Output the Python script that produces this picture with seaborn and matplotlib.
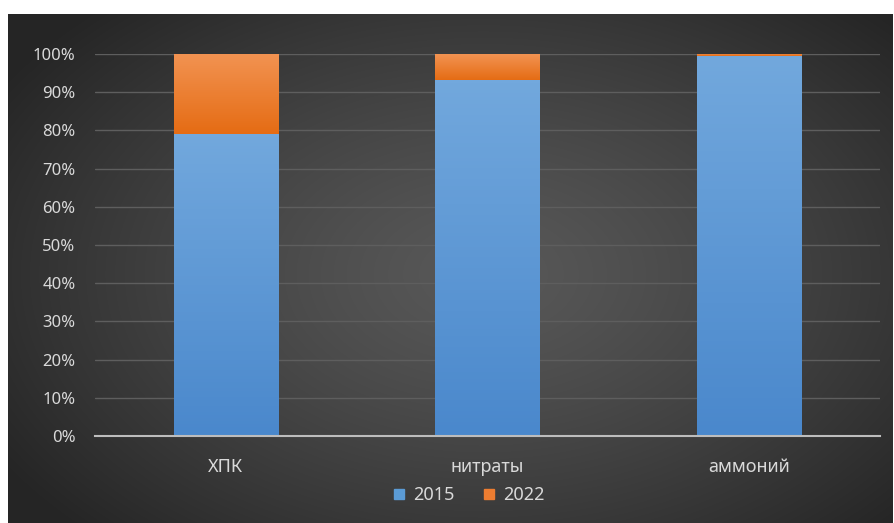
import numpy as np
import pandas as pd
import matplotlib
matplotlib.use("Agg")
import matplotlib.pyplot as plt
from matplotlib.lines import Line2D
import seaborn as sns

categories = ["ХПК", "нитраты", "аммоний"]
share_2015 = [79.0, 93.3, 99.4]
share_2022 = [21.0, 6.7, 0.6]
years = ["2015", "2022"]
yticks = list(range(0, 101, 10))

df = pd.DataFrame({"category": categories, "y2015": share_2015, "y2022": share_2022})
df["total"] = df["y2015"] + df["y2022"]

sns.set_style("dark")
plt.rcParams["font.family"] = ["Noto Sans", "DejaVu Sans"]

fig = plt.figure(figsize=(8.94, 5.23), dpi=100, facecolor="white")

# dark panel with radial gradient
bg = fig.add_axes([8 / 894, 0, 885 / 894, 509 / 523], zorder=0)
h, w = 509, 885
yy, xx = np.mgrid[0:h, 0:w]
r = np.sqrt(((xx - 475) / 560.0) ** 2 + ((yy - 260) / 360.0) ** 2)
r = np.clip(r, 0, 1) ** 1.3
c0, c1 = 0x58 / 255, 0x26 / 255
img = c0 + (c1 - c0) * r
bg.imshow(np.dstack([img, img, img]), aspect="auto", extent=[0, 1, 0, 1])
bg.set_axis_off()

ax = fig.add_axes([95 / 894, 1 - 436 / 523, 785 / 894, (436 - 54) / 523], zorder=1)
ax.patch.set_alpha(0)

sns.barplot(data=df, x="category", y="total", color="#ed7d31", width=0.4,
            saturation=1, ax=ax, zorder=3, edgecolor="none", linewidth=0)
sns.barplot(data=df, x="category", y="y2015", color="#5b9bd5", width=0.4,
            saturation=1, ax=ax, zorder=3, edgecolor="none", linewidth=0)

# gradient fills on bars
def shade(patch, lo, hi, top_col, bot_col):
    x0 = patch.get_x()
    x1 = x0 + patch.get_width()
    t = np.linspace(1, 0, 100)[:, None]
    a = np.array(matplotlib.colors.to_rgb(top_col))
    b = np.array(matplotlib.colors.to_rgb(bot_col))
    g = b + (a - b) * t
    g = np.repeat(g[:, None, :], 2, axis=1).reshape(100, 2, 3)
    im = ax.imshow(g, extent=[x0, x1, lo, hi], aspect="auto", zorder=patch.get_zorder() + 0.1)
    im.set_clip_path(patch)

for i, p in enumerate(ax.containers[0]):
    shade(p, df["y2015"][i], df["total"][i], "#f29352", "#e56c14")
for i, p in enumerate(ax.containers[1]):
    shade(p, 0, df["y2015"][i], "#72a8dd", "#4a88cc")

ax.set_xlim(-0.5, 2.5)
ax.set_ylim(0, 100)
ax.set_yticks(yticks)
ax.set_yticklabels([f"{v}%" for v in yticks])
ax.set_xlabel("")
ax.set_ylabel("")
ax.grid(axis="y", color="#5e5e5e", lw=1, zorder=0)
ax.grid(axis="x", visible=False)
for s in ["top", "right", "left"]:
    ax.spines[s].set_visible(False)
ax.spines["bottom"].set_color("#bdbdbd")
ax.spines["bottom"].set_linewidth(1.5)
ax.spines["bottom"].set_zorder(4)
ax.tick_params(axis="y", colors="#d9d9d9", labelsize=12, length=0, pad=14)
ax.tick_params(axis="x", colors="#d9d9d9", labelsize=13, length=0, pad=16)
ax.set_xlim(-0.5, 2.5)

handles = [Line2D([], [], marker="s", ls="", color=c, markersize=7.5)
           for c in ["#5b9bd5", "#ed7d31"]]
fig.legend(handles, years, loc="center", bbox_to_anchor=(463 / 894, 1 - 495 / 523),
           ncol=2, frameon=False, fontsize=13, labelcolor="#d9d9d9",
           handletextpad=-0.2, columnspacing=0.9)

fig.savefig("out.png", dpi=100, facecolor="white")
